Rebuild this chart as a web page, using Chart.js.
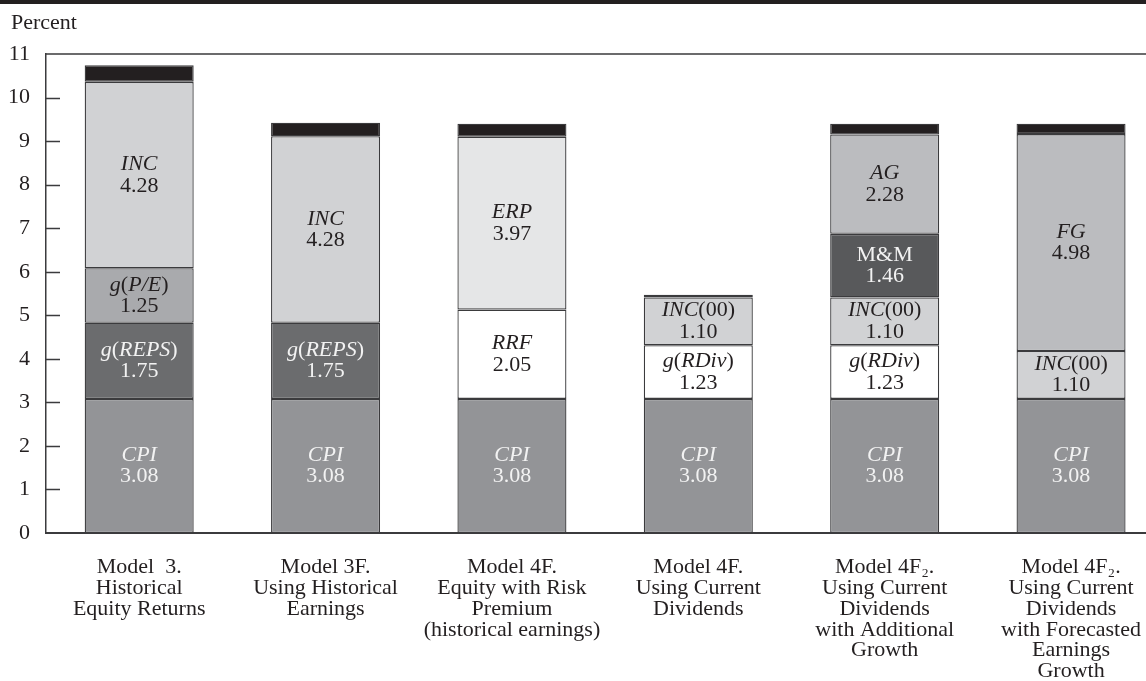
<!DOCTYPE html>
<html>
<head>
<meta charset="utf-8">
<script src="https://cdn.jsdelivr.net/npm/chart.js@4.4.1/dist/chart.umd.min.js"></script>
<style>
  body { margin: 0; overflow: hidden; background: #fff; }
</style>
</head>
<body>
<canvas id="chart" width="1165" height="681"></canvas>
<script>
const categories = [
  ["Model  3.", "Historical", "Equity Returns"],
  ["Model 3F.", "Using Historical", "Earnings"],
  ["Model 4F.", "Equity with Risk", "Premium", "(historical earnings)"],
  ["Model 4F.", "Using Current", "Dividends"],
  ["Model 4F\u2082.", "Using Current", "Dividends", "with Additional", "Growth"],
  ["Model 4F\u2082.", "Using Current", "Dividends", "with Forecasted", "Earnings", "Growth"]
];

const yTicks = [0, 1, 2, 3, 4, 5, 6, 7, 8, 9, 10, 11];

// component values, bottom to top
const cpi   = [3.08, 3.08, 3.08, 3.08, 3.08, 3.08];
const reps  = [1.75, 1.75, null, null, null, null];
const pe    = [1.25, null, null, null, null, null];
const inc   = [4.28, 4.28, null, null, null, null];
const rrf   = [null, null, 2.05, null, null, null];
const erp   = [null, null, 3.97, null, null, null];
const rdiv  = [null, null, null, 1.23, 1.23, null];
const inc00 = [null, null, null, 1.10, 1.10, 1.10];
const mm    = [null, null, null, null, 1.46, null];
const ag    = [null, null, null, null, 2.28, null];
const fg    = [null, null, null, null, null, 4.98];
const topCap = [0.38, 0.31, 0.30, 0.06, 0.25, 0.24];

// label text runs: [text, italic]
const nameCpi   = [["CPI", true]];
const nameReps  = [["g", true], ["(", false], ["REPS", true], [")", false]];
const namePe    = [["g", true], ["(", false], ["P/E", true], [")", false]];
const nameInc   = [["INC", true]];
const nameRrf   = [["RRF", true]];
const nameErp   = [["ERP", true]];
const nameRdiv  = [["g", true], ["(", false], ["RDiv", true], [")", false]];
const nameInc00 = [["INC", true], ["(00)", false]];
const nameMm    = [["M&M", false]];
const nameAg    = [["AG", true]];
const nameFg    = [["FG", true]];

const FONT = '"Liberation Serif", "DejaVu Serif", serif';
const SIZE = 22;
const LIGHT = "#f2f2f2";
const DARK = "#231f20";

function seg(label, data, color, runs, textColor) {
  return {
    label: label,
    data: data,
    backgroundColor: color,
    borderColor: "#3b3b3d",
    borderWidth: 1.3,
    borderSkipped: false,
    nameRuns: runs,
    textColor: textColor
  };
}

const datasets = [
  seg("CPI", cpi, "#939497", nameCpi, LIGHT),
  seg("g(REPS)", reps, "#6b6c6e", nameReps, LIGHT),
  seg("g(P/E)", pe, "#a9aaad", namePe, DARK),
  seg("INC", inc, "#d1d2d4", nameInc, DARK),
  seg("RRF", rrf, "#ffffff", nameRrf, DARK),
  seg("ERP", erp, "#e5e6e7", nameErp, DARK),
  seg("g(RDiv)", rdiv, "#ffffff", nameRdiv, DARK),
  seg("INC(00)", inc00, "#d1d2d4", nameInc00, DARK),
  seg("M&M", mm, "#58595b", nameMm, LIGHT),
  seg("AG", ag, "#bbbcbf", nameAg, DARK),
  seg("FG", fg, "#bbbcbf", nameFg, DARK),
  seg("top", topCap, "#231f20", null, null)
];

function drawRuns(ctx, runs, cx, cy) {
  let total = 0;
  const widths = runs.map((r) => {
    ctx.font = (r[1] ? "italic " : "") + SIZE + "px " + FONT;
    const w = ctx.measureText(r[0]).width;
    total += w;
    return w;
  });
  let x = cx - total / 2;
  runs.forEach((r, k) => {
    ctx.font = (r[1] ? "italic " : "") + SIZE + "px " + FONT;
    ctx.fillText(r[0], x, cy);
    x += widths[k];
  });
}

const decorPlugin = {
  id: "decor",
  beforeDraw(chart) {
    const ctx = chart.ctx;
    ctx.save();
    ctx.fillStyle = "#fff";
    ctx.fillRect(0, 0, chart.width, chart.height);
    ctx.fillStyle = DARK;
    ctx.fillRect(0, 0, chart.width, 4);
    ctx.font = SIZE + "px " + FONT;
    ctx.textBaseline = "middle";
    ctx.textAlign = "left";
    ctx.fillText("Percent", 11, 23);
    ctx.restore();
  },
  afterDraw(chart) {
    const ctx = chart.ctx;
    const area = chart.chartArea;
    const y = chart.scales.y;
    ctx.save();
    ctx.strokeStyle = "#3b3b3d";
    ctx.lineWidth = 1.5;
    ctx.beginPath();
    ctx.moveTo(area.left, area.top);
    ctx.lineTo(chart.width, area.top);
    yTicks.forEach((v) => {
      if (v === 0 || v === 11) return;
      const py = Math.round(y.getPixelForValue(v)) + 0.5;
      ctx.moveTo(area.left, py);
      ctx.lineTo(area.left + 14, py);
    });
    ctx.stroke();
    ctx.restore();
  },
  afterDatasetsDraw(chart) {
    const ctx = chart.ctx;
    ctx.save();
    ctx.textBaseline = "middle";
    ctx.textAlign = "left";
    chart.data.datasets.forEach((ds, i) => {
      if (!ds.nameRuns) return;
      const meta = chart.getDatasetMeta(i);
      meta.data.forEach((bar, j) => {
        const v = ds.data[j];
        if (v == null) return;
        const cy = (bar.y + bar.base) / 2;
        ctx.fillStyle = ds.textColor;
        drawRuns(ctx, ds.nameRuns, bar.x, cy - 10.7);
        drawRuns(ctx, [[v.toFixed(2), false]], bar.x, cy + 10.7);
      });
    });
    ctx.restore();
  }
};

new Chart(document.getElementById("chart"), {
  type: "bar",
  data: { labels: categories, datasets: datasets },
  options: {
    responsive: false,
    animation: false,
    layout: { padding: { top: 54, right: 0, left: 0, bottom: 0 } },
    datasets: { bar: { barPercentage: 0.585, categoryPercentage: 1 } },
    plugins: {
      legend: { display: false },
      tooltip: { enabled: false }
    },
    scales: {
      x: {
        stacked: true,
        grid: { display: false, drawTicks: false },
        border: { display: true, color: "#3b3b3d", width: 2 },
        ticks: {
          autoSkip: false,
          maxRotation: 0,
          padding: 24,
          color: DARK,
          font: { family: FONT, size: SIZE, lineHeight: 0.945 }
        },
        afterFit(scale) { scale.height = 681 - 54 - 479; }
      },
      y: {
        stacked: true,
        min: 0,
        max: 11,
        grid: { display: false, drawTicks: false },
        border: { display: true, color: "#3b3b3d", width: 1.5 },
        ticks: {
          stepSize: 1,
          padding: 16,
          color: DARK,
          font: { family: FONT, size: SIZE }
        },
        afterFit(scale) { scale.width = 46; }
      }
    }
  },
  plugins: [decorPlugin]
});
</script>
</body>
</html>
